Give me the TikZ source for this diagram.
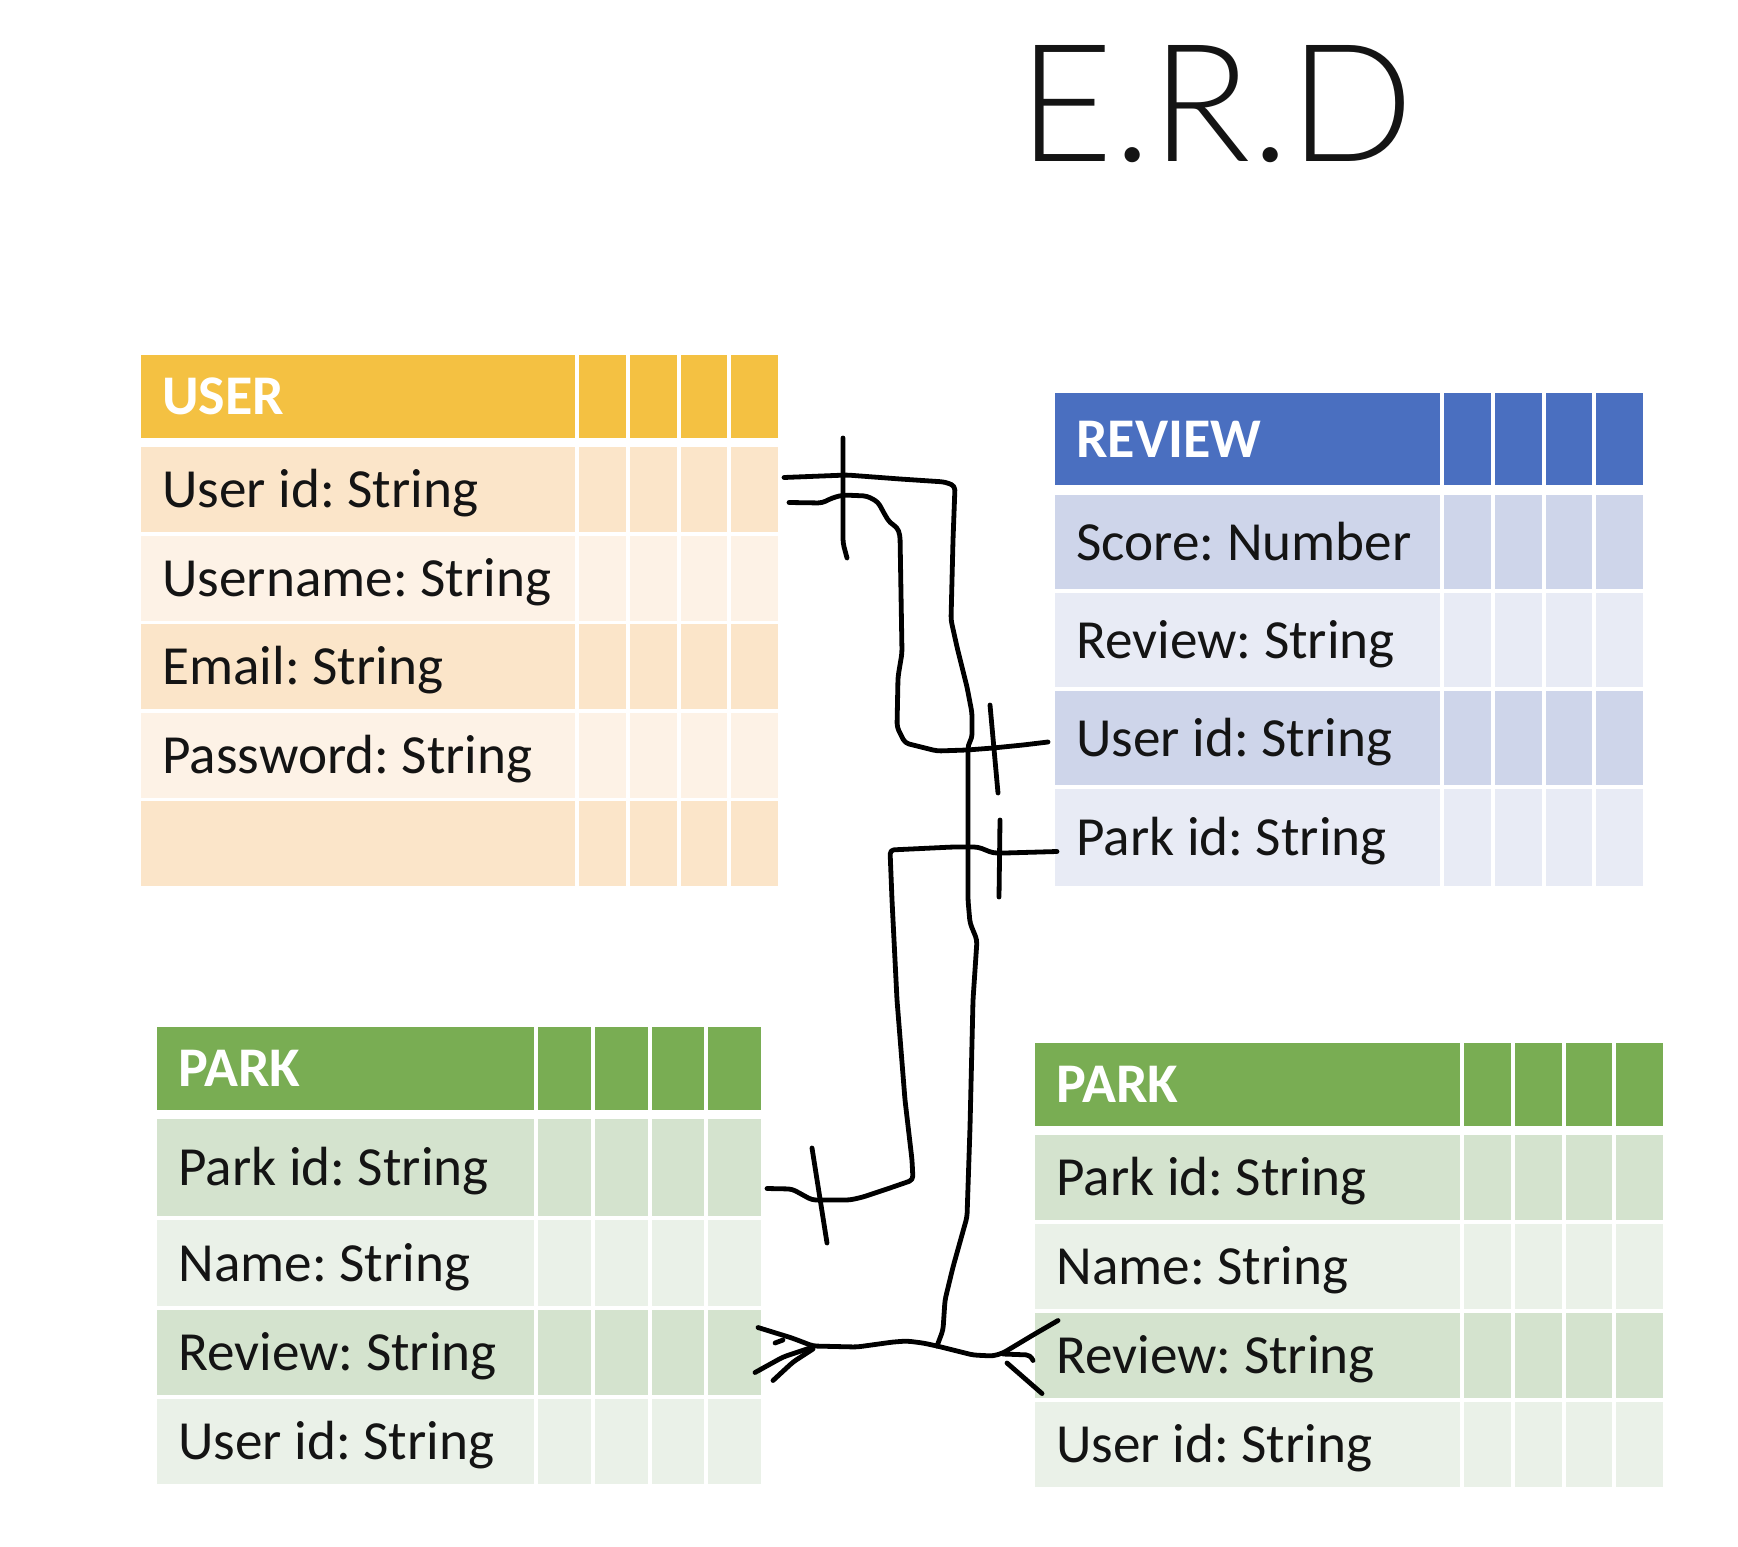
\documentclass[tikz,border=0pt]{standalone}
\usepackage{fontspec}
\setmainfont{Carlito}
\newfontfamily\titlefont{Lato Light}
\usetikzlibrary{positioning,calc}
\frenchspacing

\definecolor{ink}{HTML}{141414}
\definecolor{userhead}{HTML}{F4C142}
\definecolor{userdark}{HTML}{FBE5C9}
\definecolor{userlight}{HTML}{FDF2E6}
\definecolor{revhead}{HTML}{4A6FC0}
\definecolor{revdark}{HTML}{CED5EA}
\definecolor{revlight}{HTML}{E8EBF5}
\definecolor{parkhead}{HTML}{79AD53}
\definecolor{parkdark}{HTML}{D4E3CE}
\definecolor{parklight}{HTML}{EAF1E8}

% one table row: main cell, four small cells, text
\newcommand{\erdrow}[7][rowtext]{%
  \node[cell, fill=#6, minimum width=\mainw*0.5pt, minimum height=#5*0.5pt] (#2) at (#3,#4) {};
  \foreach \k in {0,...,3}
    \node[cell, fill=#6, minimum width=\smallw*0.5pt, minimum height=#5*0.5pt]
      (#2-\k) at (#3+\mainw+4+\k*\smallw+\k*4,#4) {};
  \node[#1, right=10.5pt of #2.west] (#2-t) {#7};
}

\begin{document}
\begin{tikzpicture}[
  x=0.5pt, y=-0.5pt,
  cell/.style={anchor=north west, inner sep=0pt, outer sep=0pt},
  rowtext/.style={inner sep=0pt, text height=18pt, text depth=0pt, text=ink,
    font=\fontsize{27.6}{30}\selectfont},
  headtext/.style={rowtext, text=white, font=\fontsize{28}{30}\selectfont\bfseries},
  wire/.style={draw=black, line width=2.4pt, line cap=round, line join=round, rounded corners=2pt}
]
\fill[white] (0,0) rectangle (1738,1546);
\useasboundingbox (0,0) rectangle (1738,1546);

\node[anchor=base west, inner sep=0pt, text=ink, font=\titlefont\fontsize{82}{90}\selectfont] (title) at (1018,162) {E.R.D};

% USER
\def\mainw{434}\def\smallw{46.75}
\erdrow[headtext]{user-h}{141}{355}{83}{userhead}{USER}
\erdrow{user-1}{141}{447}{85}{userdark}{User id: String}
\erdrow{user-2}{141}{535.5}{85}{userlight}{Username: String}
\erdrow{user-3}{141}{624}{85}{userdark}{Email: String}
\erdrow{user-4}{141}{712.5}{85}{userlight}{Password: String}
\erdrow{user-5}{141}{801}{85}{userdark}{}

% REVIEW
\def\mainw{385}\def\smallw{46.75}
\erdrow[headtext]{rev-h}{1055}{393}{92}{revhead}{REVIEW}
\erdrow{rev-1}{1055}{495}{94}{revdark}{Score: Number}
\erdrow{rev-2}{1055}{593}{94}{revlight}{Review: String}
\erdrow{rev-3}{1055}{691}{94}{revdark}{User id: String}
\erdrow{rev-4}{1055}{789}{97}{revlight}{Park id: String}

% PARK, left
\def\mainw{377}\def\smallw{52.75}
\erdrow[headtext]{parkL-h}{157}{1027}{83}{parkhead}{PARK}
\erdrow{parkL-1}{157}{1119}{97}{parkdark}{Park id: String}
\erdrow{parkL-2}{157}{1220}{86}{parklight}{Name: String}
\erdrow{parkL-3}{157}{1310}{85}{parkdark}{Review: String}
\erdrow{parkL-4}{157}{1399}{85}{parklight}{User id: String}

% PARK, right
\def\mainw{425}\def\smallw{46.75}
\erdrow[headtext]{parkR-h}{1035}{1043}{83}{parkhead}{PARK}
\erdrow{parkR-1}{1035}{1135}{85}{parkdark}{Park id: String}
\erdrow{parkR-2}{1035}{1224}{85}{parklight}{Name: String}
\erdrow{parkR-3}{1035}{1313}{85}{parkdark}{Review: String}
\erdrow{parkR-4}{1035}{1402}{85}{parklight}{User id: String}

% hand drawn links
\coordinate (a0) at ($(user-1-3.east)+(6,-12)$);
\coordinate (b0) at ($(user-1-3.east)+(11,13)$);
\coordinate (b1) at ($(rev-3.west)+(-7,4)$);
\coordinate (c0) at ($(rev-4.west)+(2,14)$);
\coordinate (c1) at ($(parkL-1-3.east)+(6,21)$);
\coordinate (j) at (937,1346);
\coordinate (l1) at ($(parkL-3-3.east)+(-3,-25)$);
\coordinate (l2) at ($(parkL-3-3.east)+(-6,20)$);
\coordinate (l3) at ($(parkL-3-3.east)+(12,28)$);
\coordinate (r1) at ($(parkR-3.west)+(23,-35)$);
\coordinate (r2) at ($(parkR-3.west)+(-2,5)$);
\coordinate (r3) at ($(parkR-3.west)+(7,38)$);

\draw[wire] (a0) -- (847,475) -- (900,479) -- (945,482) -- (955,486) -- (953,540) -- (951,620)
  -- (957,647) -- (967,687) -- (972,713) -- (972,738) -- (968,745) -- (968,900) -- (970,923)
  -- (977,940) -- (973,1000) -- (970,1127) -- (967,1217) -- (953,1267) -- (945,1300)
  -- (943,1330) -- (j);
\draw[wire] (b0) -- (822,503) -- (832,498) -- (843,495) -- (867,496) -- (878,502) -- (885,515)
  -- (890,523) -- (897,527) -- (900,535) -- (902,653) -- (898,677) -- (897,727) -- (905,743)
  -- (937,751) -- (967,750) -- (993,748) -- (1023,745) -- (b1);
\draw[wire] (c0) -- (1005,853) -- (993,853) -- (978,847) -- (953,847) -- (890,850) -- (892,900)
  -- (897,1000) -- (905,1100) -- (912,1160) -- (913,1180) -- (887,1189) -- (863,1197)
  -- (850,1200) -- (812,1200) -- (792,1189) -- (c1);

\draw[wire] (j) -- (923,1343) -- (907,1341) -- (893,1342) -- (857,1347) -- (813,1346) -- (792,1338) -- (l1);
\draw[wire] (813,1347) -- (783,1357) -- (l2);
\draw[wire] (813,1349) -- (793,1362) -- (l3);
\draw[wire] (775,1343) -- (783,1340);
\draw[wire] (j) -- (953,1350) -- (973,1355) -- (993,1356) -- (1003,1353) -- (1033,1335) -- (r1);
\draw[wire] (1003,1354) -- (1030,1355) -- (r2);
\draw[wire] (1007,1363) -- (r3);

% one-bars
\draw[wire] (843,438) -- (843,543) -- (847,558);
\draw[wire] (990,705) -- (998,793);
\draw[wire] (1000,820) -- (999,897);
\draw[wire] (812,1148) -- (827,1243);
\end{tikzpicture}
\end{document}
